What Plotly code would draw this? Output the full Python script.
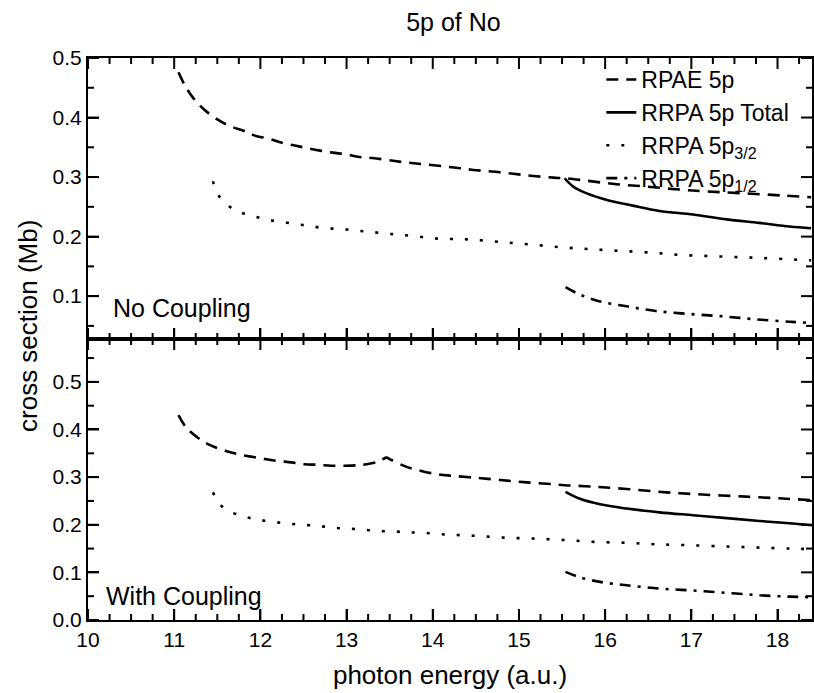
import numpy as np
import plotly.graph_objects as go
from plotly.subplots import make_subplots

# ---------------- data ----------------
# Top panel: No Coupling
nc_rpae_x = [11.05, 11.12, 11.22, 11.35, 11.51, 11.64, 11.82, 11.93, 12.11, 12.24, 12.40, 12.53, 12.71,
             12.84, 13.00, 13.13, 13.30, 13.61, 13.86, 14.19, 14.47, 14.78, 15.09, 15.40, 15.53, 15.78,
             16.13, 16.48, 16.86, 17.17, 17.56, 18.06, 18.39]
nc_rpae_y = [0.476, 0.455, 0.433, 0.413, 0.396, 0.386, 0.377, 0.370, 0.364, 0.358, 0.353, 0.349, 0.344,
             0.341, 0.338, 0.334, 0.332, 0.326, 0.322, 0.317, 0.312, 0.308, 0.303, 0.299, 0.298, 0.294,
             0.288, 0.284, 0.279, 0.276, 0.273, 0.269, 0.266]
nc_total_x = [15.53, 15.63, 15.78, 16.01, 16.32, 16.63, 17.02, 17.41, 17.79, 18.14, 18.39]
nc_total_y = [0.298, 0.284, 0.273, 0.262, 0.252, 0.243, 0.237, 0.229, 0.223, 0.217, 0.214]
nc_p32_x = [11.45, 11.46, 11.53, 11.70, 11.88, 12.06, 12.23, 12.41, 12.57, 12.75, 12.93, 13.11, 13.28,
            13.46, 13.63, 13.83, 14.02, 14.21, 14.45, 14.78, 15.12, 15.49, 15.82, 16.17, 16.55, 16.90,
            17.27, 17.64, 17.98, 18.39]
nc_p32_y = [0.293, 0.288, 0.266, 0.245, 0.236, 0.229, 0.225, 0.221, 0.218, 0.214, 0.213, 0.210, 0.208,
            0.205, 0.203, 0.200, 0.197, 0.196, 0.195, 0.191, 0.187, 0.182, 0.179, 0.176, 0.173, 0.169,
            0.167, 0.165, 0.163, 0.160]
nc_p12_x = [15.54, 15.70, 15.94, 16.25, 16.59, 16.98, 17.37, 17.75, 18.14, 18.39]
nc_p12_y = [0.115, 0.103, 0.091, 0.083, 0.075, 0.070, 0.066, 0.061, 0.057, 0.055]

# Bottom panel: With Coupling
wc_rpae_x = [11.05, 11.14, 11.31, 11.43, 11.60, 11.74, 11.89, 12.05, 12.20, 12.36, 12.51, 12.67, 12.82,
             12.98, 13.13, 13.23, 13.38, 13.46, 13.52, 13.69, 13.89, 14.06, 14.21, 14.47, 14.78, 15.09,
             15.40, 15.53, 15.86, 16.25, 16.71, 17.17, 17.64, 18.06, 18.39]
wc_rpae_y = [0.430, 0.404, 0.378, 0.366, 0.355, 0.348, 0.343, 0.338, 0.334, 0.331, 0.327, 0.326, 0.324,
             0.324, 0.325, 0.327, 0.333, 0.341, 0.336, 0.322, 0.312, 0.306, 0.303, 0.299, 0.294, 0.289,
             0.285, 0.283, 0.280, 0.275, 0.268, 0.263, 0.259, 0.255, 0.252]
wc_total_x = [15.54, 15.70, 15.94, 16.25, 16.63, 17.02, 17.41, 17.79, 18.14, 18.40]
wc_total_y = [0.269, 0.255, 0.243, 0.234, 0.226, 0.220, 0.214, 0.208, 0.203, 0.199]
wc_p32_x = [11.45, 11.47, 11.58, 11.76, 11.93, 12.11, 12.29, 12.47, 12.65, 12.82, 13.00, 13.18, 13.35,
            13.54, 13.71, 13.90, 14.10, 14.21, 14.47, 14.82, 15.16, 15.53, 15.88, 16.25, 16.59, 16.98,
            17.44, 17.79, 18.14, 18.39]
wc_p32_y = [0.268, 0.261, 0.234, 0.220, 0.212, 0.207, 0.203, 0.200, 0.198, 0.194, 0.192, 0.190, 0.187,
            0.186, 0.184, 0.183, 0.180, 0.179, 0.177, 0.173, 0.171, 0.168, 0.164, 0.162, 0.159, 0.157,
            0.154, 0.152, 0.150, 0.149]
wc_p12_x = [15.54, 15.70, 15.94, 16.25, 16.63, 17.02, 17.41, 17.79, 18.14, 18.40]
wc_p12_y = [0.101, 0.090, 0.080, 0.073, 0.066, 0.062, 0.057, 0.052, 0.049, 0.048]

series_names = ["RPAE 5p", "RRPA 5p Total", "RRPA 5p<sub>3/2</sub>", "RRPA 5p<sub>1/2</sub>"]
x_tick_vals = [10, 11, 12, 13, 14, 15, 16, 17, 18]
y_tick_vals = [0.0, 0.1, 0.2, 0.3, 0.4, 0.5]

# ---------------- styling / layout constants ----------------
FONT = "Liberation Sans, Arial, sans-serif"
dashes = ["12px,8px", "solid", "3px,12px", "11px,7px,3px,7px"]
LW = 2.6
W, H = 814, 693
MARGIN = dict(l=88, r=2, t=58, b=73)
X_RANGE = [10, 18.4]
Y_RANGE_TOP = [0.028, 0.5]
Y_RANGE_BOT = [0.0, 0.59]
MAJOR_LEN, MINOR_LEN = 11, 6

fig = make_subplots(rows=2, cols=1, shared_xaxes=True, vertical_spacing=0)
top = [(nc_rpae_x, nc_rpae_y), (nc_total_x, nc_total_y), (nc_p32_x, nc_p32_y), (nc_p12_x, nc_p12_y)]
bot = [(wc_rpae_x, wc_rpae_y), (wc_total_x, wc_total_y), (wc_p32_x, wc_p32_y), (wc_p12_x, wc_p12_y)]
for i, (xs, ys) in enumerate(top):
    fig.add_trace(go.Scatter(x=xs, y=ys, mode="lines", name=series_names[i], legendgroup=str(i),
                             line=dict(color="black", width=LW, dash=dashes[i], shape="spline")),
                  row=1, col=1)
for i, (xs, ys) in enumerate(bot):
    fig.add_trace(go.Scatter(x=xs, y=ys, mode="lines", name=series_names[i], legendgroup=str(i),
                             showlegend=False,
                             line=dict(color="black", width=LW, dash=dashes[i], shape="spline")),
                  row=2, col=1)

# ---- inside tick marks (major + minor) on all four sides, drawn as an axis-decoration trace ----
plot_w = W - MARGIN["l"] - MARGIN["r"]
panel_h = (H - MARGIN["t"] - MARGIN["b"]) / 2.0
x_per_px = (X_RANGE[1] - X_RANGE[0]) / plot_w
x_step = (x_tick_vals[1] - x_tick_vals[0]) / 4.0
y_step = (y_tick_vals[1] - y_tick_vals[0]) / 2.0


def tick_trace(yrng, xref, yref):
    y_per_px = (yrng[1] - yrng[0]) / panel_h
    xs, ys = [], []
    for xv in np.arange(X_RANGE[0], X_RANGE[1] + 1e-9, x_step):
        L = MAJOR_LEN if abs(xv - round(xv)) < 1e-9 else MINOR_LEN
        xs += [xv, xv, None, xv, xv, None]
        ys += [yrng[0], yrng[0] + L * y_per_px, None, yrng[1], yrng[1] - L * y_per_px, None]
    k0 = int(np.ceil(yrng[0] / y_step - 1e-9))
    k1 = int(np.floor(yrng[1] / y_step + 1e-9))
    for k in range(k0, k1 + 1):
        yv = k * y_step
        L = MAJOR_LEN if k % 2 == 0 else MINOR_LEN
        xs += [X_RANGE[0], X_RANGE[0] + L * x_per_px, None, X_RANGE[1], X_RANGE[1] - L * x_per_px, None]
        ys += [yv, yv, None, yv, yv, None]
    return go.Scatter(x=xs, y=ys, mode="lines", xaxis=xref, yaxis=yref, showlegend=False,
                      hoverinfo="skip", line=dict(color="black", width=2), connectgaps=False)


fig.add_trace(tick_trace(Y_RANGE_TOP, "x", "y"))
fig.add_trace(tick_trace(Y_RANGE_BOT, "x2", "y2"))

tickfont = dict(family=FONT, size=21, color="black")
fig.update_xaxes(range=X_RANGE, tickvals=x_tick_vals, ticks="inside", ticklen=MAJOR_LEN, tickwidth=2,
                 tickcolor="black", showline=True, linecolor="black", linewidth=2, mirror=True,
                 showgrid=False, zeroline=False, tickfont=tickfont)
fig.update_yaxes(tickvals=y_tick_vals, tickformat=".1f", ticks="inside", ticklen=MAJOR_LEN, tickwidth=2,
                 tickcolor="black", showline=True, linecolor="black", linewidth=2, mirror=True,
                 showgrid=False, zeroline=False, tickfont=tickfont)
fig.update_yaxes(range=Y_RANGE_TOP, row=1, col=1)
fig.update_yaxes(range=Y_RANGE_BOT, row=2, col=1)
fig.update_xaxes(showticklabels=False, row=1, col=1)
fig.update_xaxes(title=dict(text="photon energy (a.u.)", font=dict(family=FONT, size=26, color="black"),
                            standoff=16), row=2, col=1)

fig.add_annotation(text="cross section (Mb)", xref="paper", yref="paper", x=-0.083, y=0.523,
                   textangle=-90, showarrow=False, xanchor="center", yanchor="middle",
                   font=dict(family=FONT, size=26, color="black"))
fig.add_annotation(text="No Coupling", xref="x", yref="paper", x=10.27, y=0.555,
                   xanchor="left", yanchor="middle", showarrow=False,
                   font=dict(family=FONT, size=25, color="black"))
fig.add_annotation(text="With Coupling", xref="x2", yref="paper", x=10.18, y=0.043,
                   xanchor="left", yanchor="middle", showarrow=False,
                   font=dict(family=FONT, size=25, color="black"))

fig.update_layout(
    template="none",
    width=W, height=H,
    margin=MARGIN,
    paper_bgcolor="white", plot_bgcolor="white",
    title=dict(text="5p of No", x=0.557, xanchor="center", y=0.968, yanchor="middle",
               font=dict(family=FONT, size=25, color="black")),
    legend=dict(x=0.709, y=1.0, xanchor="left", yanchor="top", bgcolor="rgba(0,0,0,0)",
                font=dict(family=FONT, size=23, color="black"), tracegroupgap=0, itemwidth=30),
    showlegend=True,
)

fig.write_html("out.html")
